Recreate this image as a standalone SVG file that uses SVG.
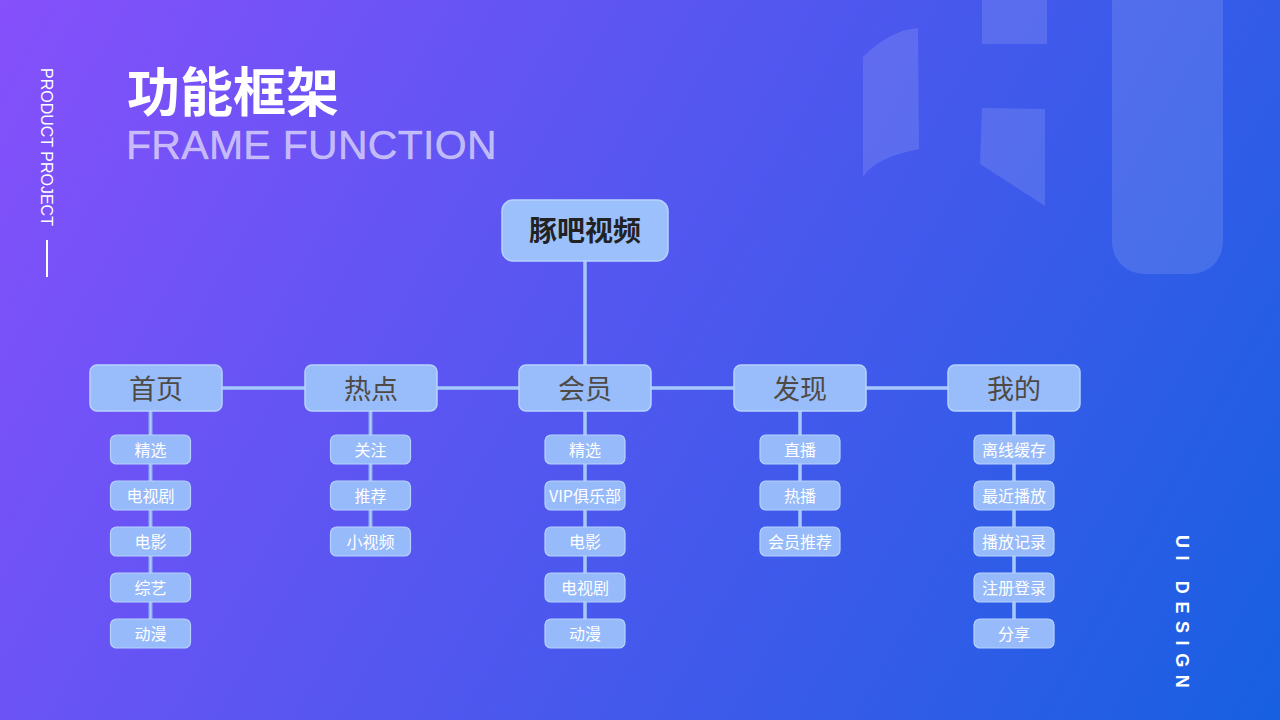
<svg xmlns="http://www.w3.org/2000/svg" width="1280" height="720" viewBox="0 0 1280 720">
  <defs>
    <linearGradient id="bg" gradientUnits="userSpaceOnUse" x1="0" y1="0" x2="1280" y2="720">
      <stop offset="0" stop-color="#8650fb"/>
      <stop offset="0.5" stop-color="#4f57ef"/>
      <stop offset="1" stop-color="#1760e2"/>
    </linearGradient>
  </defs>
  <style>
    .deco { fill: #ffffff; fill-opacity: 0.12; }
    .cjk { font-family: "Noto Sans CJK SC", "Noto Sans", sans-serif; }
    .lat { font-family: "Liberation Sans", Arial, sans-serif; }
    .conn { stroke: #8cb0f8; stroke-width: 4; fill: none; }
    .connhi { stroke: #b3cffd; stroke-width: 1.5; fill: none; }
    .root rect { fill: #9cc0fb; stroke: #b6d2fe; stroke-width: 1.5; }
    .root text { fill: #222222; font-size: 28px; font-weight: bold; text-anchor: middle; }
    .l1 rect { fill: #99bdfb; stroke: #b6d2fe; stroke-width: 1.5; }
    .l1 text { fill: #4f4a44; font-size: 27px; text-anchor: middle; }
    .l2 rect { fill: #96bafa; stroke: #b6d2fe; stroke-width: 1.2; }
    .l2 text { fill: #ffffff; font-size: 16px; text-anchor: middle; }
  </style>
  <rect x="0" y="0" width="1280" height="720" fill="url(#bg)"/>

  <g id="decoration">
    <path class="deco" d="M863,57 Q890,30 918,28 L919,149 Q874,158 863,177 Z"/>
    <rect class="deco" x="982" y="0" width="65" height="44"/>
    <polygon class="deco" points="982,108 1045,109 1045,206 980,164"/>
    <rect class="deco" x="1112" y="-40" width="111" height="314" rx="32"/>
  </g>

  <g id="title">
    <text class="cjk" x="127" y="112" font-size="53" font-weight="bold" fill="#ffffff">功能框架</text>
    <text class="lat" x="126" y="159" font-size="41" letter-spacing="0.3" fill="#ffffff" fill-opacity="0.6" stroke="#ffffff" stroke-opacity="0.35" stroke-width="0.6">FRAME FUNCTION</text>
  </g>
  <g id="side-left">
    <text class="lat" transform="translate(41,68) rotate(90)" font-size="16" fill="#ffffff">PRODUCT PROJECT</text>
    <line x1="47" y1="240" x2="47" y2="277" stroke="#ffffff" stroke-width="2"/>
  </g>
  <g id="side-right">
    <text class="lat" transform="translate(1176,535) rotate(90)" font-size="18" font-weight="bold" letter-spacing="7.6" fill="#ffffff">UI DESIGN</text>
  </g>

  <g id="connectors">
    <line class="conn" x1="585" y1="261" x2="585" y2="365"/>
    <line class="conn" x1="222" y1="388" x2="948" y2="388"/>
    <line class="conn" x1="150.5" y1="411" x2="150.5" y2="619"/>
    <line class="conn" x1="370.5" y1="411" x2="370.5" y2="527"/>
    <line class="conn" x1="585" y1="411" x2="585" y2="619"/>
    <line class="conn" x1="800" y1="411" x2="800" y2="527"/>
    <line class="conn" x1="1014" y1="411" x2="1014" y2="619"/>
    <line class="connhi" x1="585" y1="261" x2="585" y2="365"/>
    <line class="connhi" x1="222" y1="388" x2="948" y2="388"/>
    <line class="connhi" x1="150.5" y1="411" x2="150.5" y2="619"/>
    <line class="connhi" x1="370.5" y1="411" x2="370.5" y2="527"/>
    <line class="connhi" x1="585" y1="411" x2="585" y2="619"/>
    <line class="connhi" x1="800" y1="411" x2="800" y2="527"/>
    <line class="connhi" x1="1014" y1="411" x2="1014" y2="619"/>
  </g>

  <g id="node-root" class="root cjk">
    <rect x="502" y="200" width="166" height="61" rx="11"/>
    <text x="585" y="241">豚吧视频</text>
  </g>

  <g id="node-shouye" class="l1 cjk">
    <rect x="90" y="365" width="132" height="46" rx="7"/>
    <text x="156" y="399">首页</text>
  </g>
  <g id="node-redian" class="l1 cjk">
    <rect x="305" y="365" width="132" height="46" rx="7"/>
    <text x="371" y="399">热点</text>
  </g>
  <g id="node-huiyuan" class="l1 cjk">
    <rect x="519" y="365" width="132" height="46" rx="7"/>
    <text x="585" y="399">会员</text>
  </g>
  <g id="node-faxian" class="l1 cjk">
    <rect x="734" y="365" width="132" height="46" rx="7"/>
    <text x="800" y="399">发现</text>
  </g>
  <g id="node-wode" class="l1 cjk">
    <rect x="948" y="365" width="132" height="46" rx="7"/>
    <text x="1014" y="399">我的</text>
  </g>

  <g id="node-shouye-1" class="l2 cjk"><rect x="110.5" y="435" width="80" height="29" rx="6"/><text x="150.5" y="455.5">精选</text></g>
  <g id="node-shouye-2" class="l2 cjk"><rect x="110.5" y="481" width="80" height="29" rx="6"/><text x="150.5" y="501.5">电视剧</text></g>
  <g id="node-shouye-3" class="l2 cjk"><rect x="110.5" y="527" width="80" height="29" rx="6"/><text x="150.5" y="547.5">电影</text></g>
  <g id="node-shouye-4" class="l2 cjk"><rect x="110.5" y="573" width="80" height="29" rx="6"/><text x="150.5" y="593.5">综艺</text></g>
  <g id="node-shouye-5" class="l2 cjk"><rect x="110.5" y="619" width="80" height="29" rx="6"/><text x="150.5" y="639.5">动漫</text></g>

  <g id="node-redian-1" class="l2 cjk"><rect x="330.5" y="435" width="80" height="29" rx="6"/><text x="370.5" y="455.5">关注</text></g>
  <g id="node-redian-2" class="l2 cjk"><rect x="330.5" y="481" width="80" height="29" rx="6"/><text x="370.5" y="501.5">推荐</text></g>
  <g id="node-redian-3" class="l2 cjk"><rect x="330.5" y="527" width="80" height="29" rx="6"/><text x="370.5" y="547.5">小视频</text></g>

  <g id="node-huiyuan-1" class="l2 cjk"><rect x="545" y="435" width="80" height="29" rx="6"/><text x="585" y="455.5">精选</text></g>
  <g id="node-huiyuan-2" class="l2 cjk"><rect x="545" y="481" width="80" height="29" rx="6"/><text x="585" y="501.5">VIP俱乐部</text></g>
  <g id="node-huiyuan-3" class="l2 cjk"><rect x="545" y="527" width="80" height="29" rx="6"/><text x="585" y="547.5">电影</text></g>
  <g id="node-huiyuan-4" class="l2 cjk"><rect x="545" y="573" width="80" height="29" rx="6"/><text x="585" y="593.5">电视剧</text></g>
  <g id="node-huiyuan-5" class="l2 cjk"><rect x="545" y="619" width="80" height="29" rx="6"/><text x="585" y="639.5">动漫</text></g>

  <g id="node-faxian-1" class="l2 cjk"><rect x="760" y="435" width="80" height="29" rx="6"/><text x="800" y="455.5">直播</text></g>
  <g id="node-faxian-2" class="l2 cjk"><rect x="760" y="481" width="80" height="29" rx="6"/><text x="800" y="501.5">热播</text></g>
  <g id="node-faxian-3" class="l2 cjk"><rect x="760" y="527" width="80" height="29" rx="6"/><text x="800" y="547.5">会员推荐</text></g>

  <g id="node-wode-1" class="l2 cjk"><rect x="974" y="435" width="80" height="29" rx="6"/><text x="1014" y="455.5">离线缓存</text></g>
  <g id="node-wode-2" class="l2 cjk"><rect x="974" y="481" width="80" height="29" rx="6"/><text x="1014" y="501.5">最近播放</text></g>
  <g id="node-wode-3" class="l2 cjk"><rect x="974" y="527" width="80" height="29" rx="6"/><text x="1014" y="547.5">播放记录</text></g>
  <g id="node-wode-4" class="l2 cjk"><rect x="974" y="573" width="80" height="29" rx="6"/><text x="1014" y="593.5">注册登录</text></g>
  <g id="node-wode-5" class="l2 cjk"><rect x="974" y="619" width="80" height="29" rx="6"/><text x="1014" y="639.5">分享</text></g>
</svg>
